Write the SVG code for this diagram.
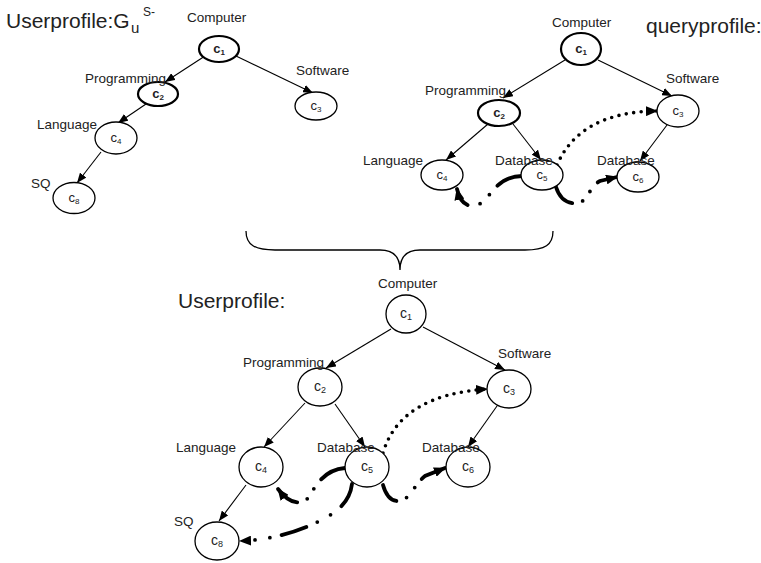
<svg xmlns="http://www.w3.org/2000/svg" width="761" height="563" viewBox="0 0 761 563">
<style>
text{font-family:"Liberation Sans",Arial,sans-serif;fill:#222}
.lbl{font-size:13.5px}
.ttl{font-size:21px}
.nl{font-size:13px;text-anchor:middle}
.nb{font-size:14px;text-anchor:middle}
.b{font-weight:bold}
ellipse{fill:#fff;stroke:#000;stroke-width:1.3}
ellipse.thick{stroke-width:2.2}
.edge{stroke:#000;stroke-width:1.1;fill:none;marker-end:url(#ah)}
.dot{stroke:#000;stroke-width:3.6;fill:none;stroke-linecap:round;stroke-dasharray:0 7.5;marker-end:url(#ah2)}
.dd{stroke:#000;stroke-width:3.8;fill:none;stroke-linecap:round;marker-end:url(#ah2)}
.brace{stroke:#000;stroke-width:1.3;fill:none}
</style>
<defs>
<marker id="ah" viewBox="0 0 10 8" refX="10" refY="4" markerWidth="10" markerHeight="8" markerUnits="userSpaceOnUse" orient="auto"><path d="M0,0 L10,4 L0,8 z" fill="#000"/></marker>
<marker id="ah2" viewBox="0 0 12 10" refX="11" refY="5" markerWidth="12" markerHeight="10" markerUnits="userSpaceOnUse" orient="auto"><path d="M0,0 L12,5 L0,10 z" fill="#000"/></marker>
</defs>

<g id="titles">
<text class="ttl" x="6" y="28">Userprofile:G<tspan x="131" y="33" font-size="15">u</tspan><tspan x="143" y="16" font-size="12">S-</tspan></text>
<text class="ttl" x="646" y="33">queryprofile:</text>
<text class="ttl" x="178" y="308">Userprofile:</text>
</g>

<g id="connectors">
<!-- top-left -->
<line class="edge" x1="205" y1="56" x2="165" y2="82"/>
<line class="edge" x1="236" y1="56" x2="313" y2="93"/>
<line class="edge" x1="146" y1="104" x2="118" y2="123"/>
<line class="edge" x1="101" y1="152" x2="77" y2="183"/>
<!-- top-right -->
<line class="edge" x1="565" y1="60" x2="503" y2="98"/>
<line class="edge" x1="598" y1="60" x2="672" y2="96"/>
<line class="edge" x1="488" y1="124" x2="446" y2="160"/>
<line class="edge" x1="513" y1="124" x2="541" y2="160"/>
<line class="edge" x1="667" y1="125" x2="640" y2="161"/>
<path class="dot" d="M557,165 Q580,112 657,111"/>
<path class="dd" stroke-dasharray="27 12 0 13 0 13 60" d="M522,176 C492,176 490,206 472,206 C464,206 459,198 457,189"/>
<path class="dd" stroke-dasharray="24 11 0 12 0 12 60" d="M556,187 C560,200 570,205 579,203 C588,200 590,186 600,181 L617,177"/>
<!-- bottom -->
<line class="edge" x1="391" y1="329" x2="326" y2="368"/>
<line class="edge" x1="423" y1="327" x2="505" y2="370"/>
<line class="edge" x1="305" y1="403" x2="264" y2="447"/>
<line class="edge" x1="335" y1="404" x2="365" y2="447"/>
<line class="edge" x1="497" y1="406" x2="468" y2="447"/>
<line class="edge" x1="246" y1="485" x2="219" y2="521"/>
<path class="dot" d="M383,453 Q400,395 487,389"/>
<path class="dd" stroke-dasharray="27 12 0 12 0 11 60" d="M345,468 C322,470 315,488 308,498 C302,505 290,505 278,489"/>
<path class="dd" stroke-dasharray="25 14 0 15 0 12 26 12 0 15 0 60" d="M352,484 C350,500 340,510 325,518 C300,532 270,540 240,541"/>
<path class="dd" stroke-dasharray="22 11 0 13 0 11 60" d="M383,485 C386,496 392,502 400,501 C410,499 414,485 425,476 L445,468"/>
</g>

<g id="brace"><path class="brace" d="M246,231 C246,245 255,250 275,250 L380,250 C395,250 400,258 400,270 C400,258 405,250 420,250 L525,250 C545,250 553,245 553,231"/></g>

<!-- top-left tree -->
<g id="tl-c1"><ellipse class="thick" cx="219" cy="49" rx="20" ry="13"/><text class="nl b" x="219" y="53">c<tspan font-size="8" dy="2">1</tspan></text><text class="lbl" x="187" y="22">Computer</text></g>
<g id="tl-c2"><ellipse class="thick" cx="158" cy="94" rx="20" ry="12"/><text class="nl b" x="158" y="98">c<tspan font-size="8" dy="2">2</tspan></text><text class="lbl" x="85" y="83">Programming</text></g>
<g id="tl-c3"><ellipse cx="316" cy="106" rx="21" ry="14"/><text class="nl" x="316" y="110">c<tspan font-size="8" dy="2">3</tspan></text><text class="lbl" x="296" y="75">Software</text></g>
<g id="tl-c4"><ellipse cx="116" cy="138" rx="21" ry="16"/><text class="nl" x="116" y="142">c<tspan font-size="8" dy="2">4</tspan></text><text class="lbl" x="37" y="129">Language</text></g>
<g id="tl-c8"><ellipse cx="74" cy="198" rx="21" ry="15.5"/><text class="nl" x="74" y="202">c<tspan font-size="8" dy="2">8</tspan></text><text class="lbl" x="31" y="188">SQ</text></g>

<!-- top-right tree -->
<g id="tr-c1"><ellipse class="thick" cx="581" cy="49" rx="20" ry="16"/><text class="nl b" x="581" y="53">c<tspan font-size="8" dy="2">1</tspan></text><text class="lbl" x="552" y="27">Computer</text></g>
<g id="tr-c2"><ellipse class="thick" cx="499" cy="113" rx="21" ry="13"/><text class="nl b" x="499" y="117">c<tspan font-size="8" dy="2">2</tspan></text><text class="lbl" x="425" y="95">Programming</text></g>
<g id="tr-c3"><ellipse cx="678" cy="111" rx="21" ry="16"/><text class="nl" x="678" y="115">c<tspan font-size="8" dy="2">3</tspan></text><text class="lbl" x="666" y="83">Software</text></g>
<g id="tr-c4"><ellipse cx="442" cy="175" rx="21" ry="15"/><text class="nl" x="442" y="179">c<tspan font-size="8" dy="2">4</tspan></text><text class="lbl" x="363" y="165">Language</text></g>
<g id="tr-c5"><ellipse cx="542" cy="175" rx="21" ry="15"/><text class="nl" x="542" y="179">c<tspan font-size="8" dy="2">5</tspan></text><text class="lbl" x="495" y="165">Database</text></g>
<g id="tr-c6"><ellipse cx="638" cy="177" rx="21" ry="15"/><text class="nl" x="638" y="181">c<tspan font-size="8" dy="2">6</tspan></text><text class="lbl" x="597" y="165">Database</text></g>

<!-- bottom tree -->
<g id="b-c1"><ellipse cx="406" cy="314" rx="20" ry="19"/><text class="nb" x="406" y="318">c<tspan font-size="9" dy="2">1</tspan></text><text class="lbl" x="378" y="288">Computer</text></g>
<g id="b-c2"><ellipse cx="320" cy="387" rx="22" ry="19"/><text class="nb" x="320" y="391">c<tspan font-size="9" dy="2">2</tspan></text><text class="lbl" x="243" y="367">Programming</text></g>
<g id="b-c3"><ellipse cx="509" cy="389" rx="22" ry="19"/><text class="nb" x="509" y="393">c<tspan font-size="9" dy="2">3</tspan></text><text class="lbl" x="498" y="358">Software</text></g>
<g id="b-c4"><ellipse cx="261" cy="467" rx="22" ry="20"/><text class="nb" x="261" y="471">c<tspan font-size="9" dy="2">4</tspan></text><text class="lbl" x="176" y="452">Language</text></g>
<g id="b-c5"><ellipse cx="367" cy="467" rx="22" ry="20"/><text class="nb" x="367" y="471">c<tspan font-size="9" dy="2">5</tspan></text><text class="lbl" x="317" y="452">Database</text></g>
<g id="b-c6"><ellipse cx="468" cy="467" rx="22" ry="20"/><text class="nb" x="468" y="471">c<tspan font-size="9" dy="2">6</tspan></text><text class="lbl" x="422" y="452">Database</text></g>
<g id="b-c8"><ellipse cx="217" cy="541" rx="22" ry="19"/><text class="nb" x="217" y="545">c<tspan font-size="9" dy="2">8</tspan></text><text class="lbl" x="174" y="526">SQ</text></g>
</svg>
